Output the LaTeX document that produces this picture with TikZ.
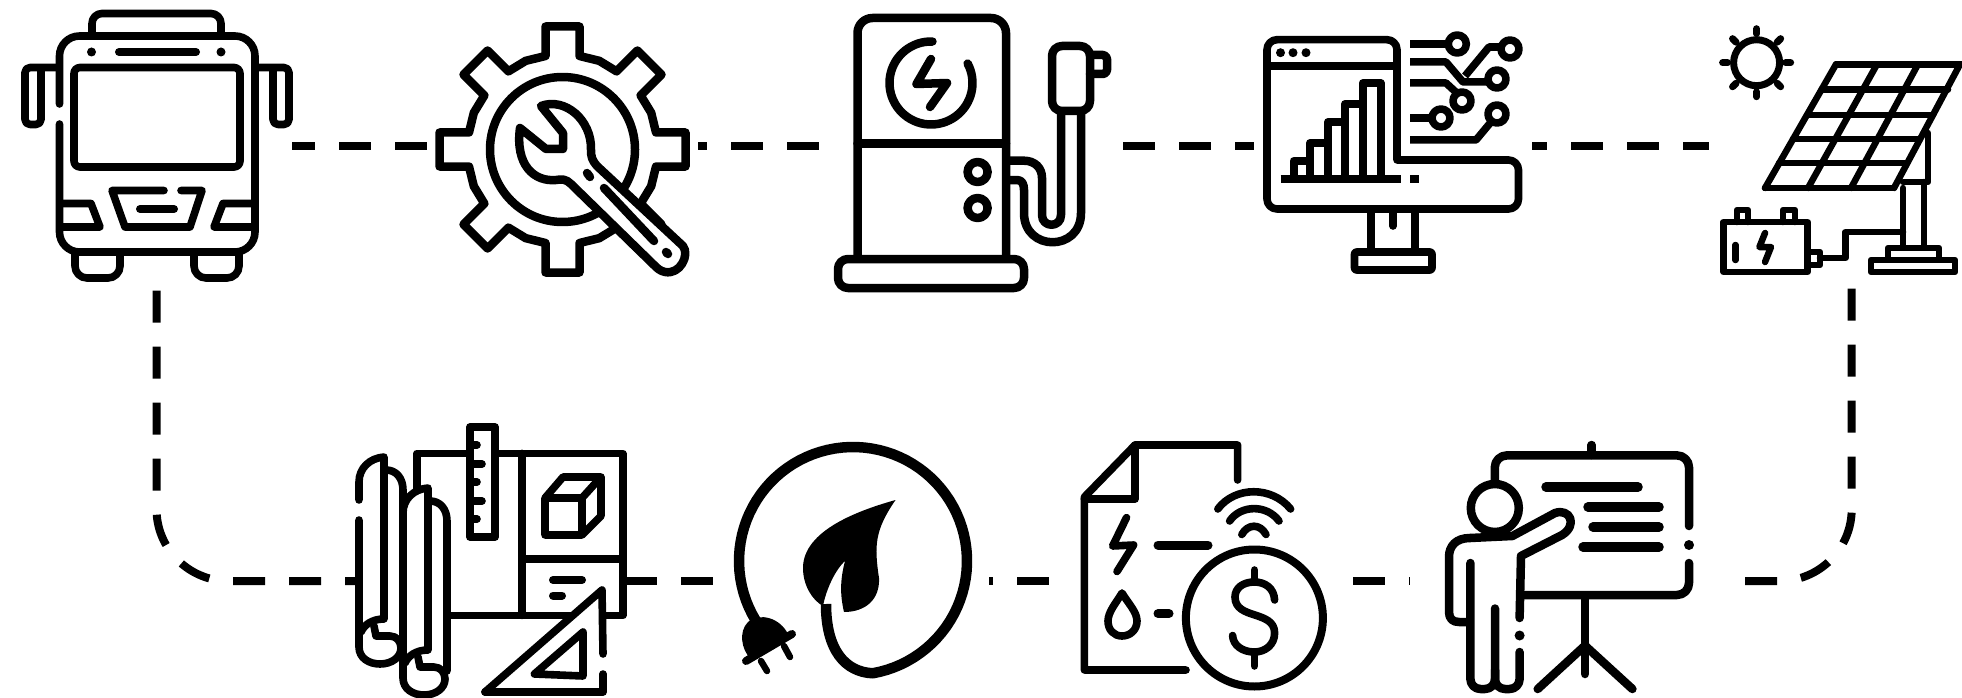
\documentclass[tikz,border=0pt]{standalone}
\pgfdeclarelayer{conn}
\pgfsetlayers{conn,main}
\newcommand{\gearpt}[2]{({562.5+(#1)*cos(\a)+(#2)*sin(\a)},{149.5-(#1)*sin(\a)+(#2)*cos(\a)})}
\tikzset{
  mask/.style={fill=white,draw=none,inner sep=0pt,outer sep=0pt},
  link/.style={draw=black,line width=8pt},
  icon/.style={draw=black,line width=7.6pt,line cap=round,line join=round},
  thick icon/.style={icon,line width=8.5pt},
  thin icon/.style={icon,line width=6.5pt},
  bar/.style={draw=black,line width=9.5pt,line cap=round},
  buttline/.style={icon,line cap=butt},
}
\newcommand{\rollshape}[1]{%
  \begin{scope}[shift={#1}]
  \draw[icon] (359,500) -- (359,482) .. controls (359,468) and (370,458) .. (384,457) -- (384,619) .. controls (372,619) and (364,625) .. (361,632);
  \draw[icon] (374,626) -- (376,636) -- (390,636) .. controls (397,636) and (401,642) .. (401,648);
  \draw[icon] (359,520) -- (359,647) .. controls (359,658) and (369,664) .. (380,664) .. controls (392,664) and (401,657) .. (401,648);
  \draw[icon] (386,470) .. controls (396,470) and (403,478) .. (403,490) -- (403,640);
  \end{scope}}
\begin{document}
\begin{tikzpicture}[x=1pt,y=-1pt]
\useasboundingbox (0,0) rectangle (1962,698);
% masks that carry the names of the icons
\node[mask,minimum width=271pt,minimum height=270pt] (bus) at (156.5,146) {};
\node[mask,minimum width=261pt,minimum height=250pt] (gear) at (567.5,146) {};
\node[mask,minimum width=278pt,minimum height=292pt] (charger) at (973,146) {};
\node[mask,minimum width=278pt,minimum height=250pt] (monitor) at (1393,146) {};
\node[mask,minimum width=253pt,minimum height=260pt] (solar) at (1835.5,146) {};
\node[mask,minimum width=268pt,minimum height=234pt] (blueprint) at (491,581) {};
\node[mask,minimum width=269pt,minimum height=234pt] (leaf) at (854.5,581) {};
\node[mask,minimum width=285pt,minimum height=234pt] (bill) at (1197.5,581) {};
\node[mask,minimum width=320pt,minimum height=234pt] (presenter) at (1570,581) {};
\coordinate (solarfoot) at (1851.7,276);
% connectors
\begin{pgfonlayer}{conn}
\draw[link,dash pattern=on 32pt off 24pt,dash phase=41.5pt] (bus.center) -- (gear.center) -- (charger.center) -- (monitor.center) -- (solar.center);
\draw[link,dash pattern=on 32pt off 24pt,dash phase=34pt] (blueprint.center) -- (leaf.center) -- (bill.center) -- (presenter.center);
\draw[link,dash pattern=on 32pt off 24pt,dash phase=46.3pt,rounded corners=72pt] (bus.south) -- (bus.south |- blueprint.center) -- (blueprint.center);
\draw[link,dash pattern=on 32pt off 24pt,dash phase=43.3pt,rounded corners=72pt] (solarfoot) -- (solarfoot |- presenter.center) -- (presenter.center);
\end{pgfonlayer}
% ---------- bus
\draw[icon,rounded corners=10pt] (92,34) -- (92,13.5) -- (221,13.5) -- (221,34);
\draw[icon,rounded corners=20pt] (59.5,104) -- (59.5,36) -- (255,36) -- (255,252) -- (59.5,252) -- (59.5,124);
\fill (91.5,52) circle[radius=4.5pt] (221,52) circle[radius=4.5pt];
\draw[bar,line width=8pt] (119,52) -- (196,52);
\draw[icon,rounded corners=6pt] (74,67.5) rectangle (240,167);
\draw[icon,rounded corners=5pt] (58,67.5) -- (25,67.5) -- (25,124.5) -- (41,124.5) -- (41,67.5);
\draw[icon,rounded corners=5pt] (256,67.5) -- (289,67.5) -- (289,124.5) -- (273,124.5) -- (273,67.5);
\draw[icon] (164,190.5) -- (112,190.5) -- (125,227) -- (190,227) -- (202,190.5) -- (181,190.5);
\draw[bar,line width=8pt] (140,209) -- (174,209);
\draw[icon] (60,203.5) -- (91,203.5) -- (100,227) -- (60,227);
\draw[icon] (254,203.5) -- (223,203.5) -- (214,227) -- (254,227);
\draw[icon,rounded corners=12pt] (75,252) -- (75,278) -- (120,278) -- (120,252);
\draw[icon,rounded corners=12pt] (194,252) -- (194,278) -- (239,278) -- (239,252);
% ---------- gear and wrench
\begin{scope}[icon/.append style={line width=8.5pt}]
\draw[icon] foreach \a in {0,45,...,315} { \ifnum\a=0 \gearpt{93.5}{17} \else -- \gearpt{93.5}{17} \fi -- \gearpt{123}{17} -- \gearpt{123}{-17} -- \gearpt{93.5}{-17} -- ({562.5+96*cos(\a+22.5)},{149.5-96*sin(\a+22.5)}) } -- cycle;
\draw[icon] (562.5,149.5) circle[radius=72.5pt];
\draw[icon,fill=white] (541,106) .. controls (565,97) and (592,120) .. (591,150) .. controls (591,157) and (592,160) .. (597,166) -- (683,246) .. controls (690,255) and (680,275) .. (665,272) .. controls (660,271) and (657,268) .. (654,265) -- (571,184) .. controls (566,179) and (562,179) .. (556,180) .. controls (534,182) and (515,165) .. (520,128) -- (546,149) -- (563,149) -- (563,133) -- cycle;
\draw[icon] (587,173) -- (590,177);
\draw[icon] (604,188) -- (654,241);
\draw[icon] (666,252) -- (668,254);
\end{scope}
% ---------- charger
\draw[thick icon,rounded corners=15pt] (857.5,259) -- (857.5,18) -- (1006,18) -- (1006,259);
\draw[thick icon,rounded corners=10pt,fill=white] (838,259) rectangle (1024,288);
\draw[thick icon] (857.5,143.5) -- (1006,143.5);
\draw[thick icon] plot[domain=88:388,samples=60] ({931+41.5*cos(\x)},{83-41.5*sin(\x)});
\draw[thick icon] (931,59) -- (916.5,84) -- (947,83) -- (930,107);
\draw[thick icon] (977.6,172) circle[radius=10pt] (977.6,208) circle[radius=10pt];
\draw[thick icon,line cap=butt] (1006,160.7) -- (1024,160.7) .. controls (1035,160.7) and (1042,168) .. (1042,178) -- (1042,215) .. controls (1042,228) and (1061,228) .. (1061,215) -- (1061,113);
\draw[thick icon,line cap=butt] (1006,180) -- (1017,180) .. controls (1022,180) and (1024,184) .. (1024,190) -- (1024,213) .. controls (1024,252) and (1081,252) .. (1081,213) -- (1081,113);
\draw[thick icon,rounded corners=10pt,fill=white] (1052,46) rectangle (1090,111);
\draw[thick icon,rounded corners=4pt] (1090,55) -- (1107,55) -- (1107,74) -- (1090,74);
% ---------- monitor
\draw[icon,rounded corners=10pt] (1397,160) -- (1397,39.7) -- (1267,39.7) -- (1267,209) -- (1518.5,209) -- (1518.5,160) -- (1397,160);
\draw[icon] (1267,66) -- (1397,66);
\fill (1280.5,52.7) circle[radius=4.5pt] (1293,52.7) circle[radius=4.5pt] (1306,52.7) circle[radius=4.5pt];
\draw[buttline,line width=8.5pt] (1280.5,179) -- (1401,179);
\draw[buttline,line width=8.5pt] (1410,179) -- (1419,179);
\draw[buttline,line width=8pt,line join=round] (1293.5,179) -- (1293.5,161) -- (1310,161) -- (1310,179);
\draw[buttline,line width=8pt] (1310,161) -- (1310,143) -- (1328,143) -- (1328,179);
\draw[buttline,line width=8pt] (1328,143) -- (1328,122) -- (1345,122) -- (1345,179);
\draw[buttline,line width=8pt] (1345,122) -- (1345,104) -- (1362.8,104) -- (1362.8,179);
\draw[buttline,line width=8pt] (1362.8,104) -- (1362.8,83) -- (1380.5,83) -- (1380.5,179);
\draw[icon] (1371,213) -- (1371,248) (1415,213) -- (1415,248);
\draw[icon] (1393,209) -- (1393,226);
\draw[icon,rounded corners=2pt] (1354.5,252) rectangle (1432,270);
\draw[buttline] (1410,44) -- (1448,44);
\draw[buttline,line width=7.5pt] (1410,62) -- (1446,62) -- (1463,82) -- (1488,82);
\draw[buttline] (1465,76) -- (1489,47) -- (1501,47);
\draw[buttline,line width=7.5pt] (1410,83) -- (1446,83) -- (1459,95);
\draw[buttline] (1410,118) -- (1432,118);
\draw[buttline,line width=7.5pt] (1410,140) -- (1476,140) -- (1491,122);
\foreach \p in {(1457.3,44),(1510,49),(1497,79),(1462,101),(1441,118),(1497,114)}
  \draw[icon,fill=white] \p circle[radius=9pt];
% ---------- solar
\draw[icon,line width=7pt] (1756.6,62.7) circle[radius=23pt];
\foreach \a in {0,45,...,315}
  \draw[thin icon,line width=7pt] ({1756.6+29*cos(\a)},{62.7+29*sin(\a)}) -- ({1756.6+34*cos(\a)},{62.7+34*sin(\a)});
\draw[thin icon] (1836,64.3) -- (1962,64.3) (1821.6,89.3) -- (1948,89.3) (1807,115) -- (1933,115) (1793,139) -- (1920,139) (1779,163) -- (1907,163) (1765,188) -- (1894,188);
\draw[thin icon] (1836,64.3) -- (1765,188) (1877,64.3) -- (1808,188) (1918,64.3) -- (1851,188) (1960,64.3) -- (1894,188);
\draw[thin icon] (1903,182) -- (1928,182) -- (1928,133);
\draw[thin icon] (1903,188) -- (1903,245) (1924,182) -- (1924,245);
\draw[thin icon] (1888,258) -- (1888,248) -- (1939,248) -- (1939,258);
\draw[thin icon] (1871,260) rectangle (1955,272);
\draw[thin icon] (1820,258) -- (1845.5,258) -- (1845.5,232) -- (1903,232);
\draw[thin icon] (1723.5,222) rectangle (1807.5,272);
\draw[thin icon] (1737,222) -- (1737,210) -- (1748,210) -- (1748,222) (1783,222) -- (1783,210) -- (1795,210) -- (1795,222);
\draw[thin icon] (1808,252) -- (1820,252) -- (1820,265) -- (1808,265);
\draw[thin icon] (1735.5,245) -- (1735.5,260);
\draw[thin icon] (1765,233) -- (1759.4,247) -- (1771,247) -- (1765,262);
% ---------- blueprint
\draw[icon] (417,490) -- (417,453.4) -- (470,453.4) (495,453.4) -- (622.8,453.4) -- (622.8,615.4) -- (606,615.4);
\draw[icon] (448.6,615.4) -- (571.5,615.4);
\draw[icon] (522,453.4) -- (522,615.4);
\draw[icon] (522,559) -- (622.8,559);
\draw[icon] (470,427) rectangle (495,537);
\foreach \y/\l in {445/477,464/482,482/477,501/482,519/477}
  \draw[icon,line cap=round] (470,\y) -- (\l,\y);
\draw[icon] (545,498) -- (582,498) -- (582,535) -- (545,535) -- cycle (545,498) -- (563,477) -- (601,477) -- (601,516) -- (582,535) (582,498) -- (601,477);
\draw[bar,line width=8pt] (553,580) -- (582,580) (553,595.5) -- (562,595.5);
\rollshape{(0,0)}
\draw[icon,draw=white,fill=white,line width=1pt] (406,495) rectangle (445,690);
\rollshape{(44,31)}
\draw[icon] (403,500) -- (403,551);
\draw[icon] (485,692) -- (602,590) -- (603,654);
\draw[icon] (603,674) -- (603,692) -- (485,692);
\draw[icon] (583,632) -- (583,676) -- (534.4,674) -- cycle;
% ---------- leaf
\draw[icon,line width=10.5pt,line cap=butt] plot[domain=0:295,samples=80] ({853+114*cos(215-\x)},{561-114*sin(215-\x)}) .. controls (845,672) and (826,650) .. (826,604);
\fill (895.5,500) .. controls (860,510) and (803,530) .. (803,568) .. controls (803,585) and (812,600) .. (823,606) .. controls (826,590) and (835,570) .. (845,561) .. controls (840,580) and (840,595) .. (844,612) .. controls (865,612) and (880,600) .. (879,578) .. controls (874,545) and (875,530) .. (895.5,500) -- cycle;
\fill (748,622) .. controls (760,612) and (780,618) .. (788,634) -- (750,658) .. controls (742,650) and (738,632) .. (748,622) -- cycle;
\draw[icon,line width=8pt] (746,661) -- (792,634);
\draw[thin icon] (761,661) -- (767,671) (784,646) -- (790,657);
% ---------- bill
\draw[icon] (1237.6,480) -- (1237.6,445) -- (1135,445) -- (1084.4,497) -- (1084.4,670) -- (1186,670);
\draw[icon] (1135,445) -- (1135,499) -- (1084.4,499);
\draw[icon] (1126.5,517.6) -- (1112.6,546) -- (1133.6,545) -- (1117,571.5);
\draw[bar,line width=9pt] (1158,545) -- (1208,545) (1158,613.6) -- (1169,613.6);
\draw[icon] (1122,593) .. controls (1116,603) and (1108,612) .. (1108,621) .. controls (1108,630) and (1114,636) .. (1122,636) .. controls (1130,636) and (1137,630) .. (1137,621) .. controls (1137,612) and (1128,603) .. (1122,593) -- cycle;
\draw[icon,line width=8pt] (1254.4,618) circle[radius=68.5pt];
\draw[icon] (1274.6,600) .. controls (1274,588) and (1265,582) .. (1254.4,582) .. controls (1243,582) and (1235,588) .. (1235,597) .. controls (1235,620) and (1274.6,610) .. (1274.6,633) .. controls (1274.6,645) and (1265,652) .. (1254.4,652) .. controls (1242,652) and (1233,645) .. (1232.6,635.5);
\draw[icon] (1254.4,570) -- (1254.4,581) (1254.4,653) -- (1254.4,666);
\draw[icon] (1217.8,509) .. controls (1235,486) and (1272,486) .. (1290.6,509);
\draw[icon] (1229.6,521) .. controls (1241,504.5) and (1267,504.5) .. (1279,521);
\draw[icon] (1241.8,534.5) .. controls (1248,523.5) and (1260,523.5) .. (1266,534.5);
% ---------- presenter
\begin{scope}[icon/.append style={line width=8.5pt}]
\draw[icon,rounded corners=12pt] (1494.8,482) -- (1494.8,455.4) -- (1689,455.4) -- (1689,526);
\fill (1689,545) circle[radius=5pt];
\draw[icon,rounded corners=12pt] (1689,563) -- (1689,595) -- (1523,595);
\draw[icon] (1591.6,445) -- (1591.6,455);
\draw[bar] (1546,487) -- (1638,487) (1588,507) -- (1659,507) (1593,527) -- (1659,527) (1583,547) -- (1659,547);
\draw[icon] (1494.8,508) circle[radius=24pt];
\draw[icon] (1470,538) .. controls (1456,538) and (1449,546) .. (1449,557) -- (1449,612) .. controls (1449,619) and (1453,622) .. (1459,622) -- (1468,622);
\draw[icon] (1470,538) -- (1512.4,536) -- (1555,513) .. controls (1570,508) and (1578,525) .. (1562,535) -- (1521,556) -- (1519.6,618);
\fill (1519.6,635.5) circle[radius=5pt];
\draw[icon,rounded corners=10pt] (1470.4,563) -- (1470.4,689) -- (1495,689) -- (1495,608.5);
\draw[icon,rounded corners=10pt] (1495,670) -- (1495,689) -- (1519.6,689) -- (1519.6,652);
\draw[icon] (1585,598) -- (1585,674);
\draw[icon] (1537.7,689) -- (1585,645.6) -- (1632.4,689);
\end{scope}
\end{tikzpicture}
\end{document}
